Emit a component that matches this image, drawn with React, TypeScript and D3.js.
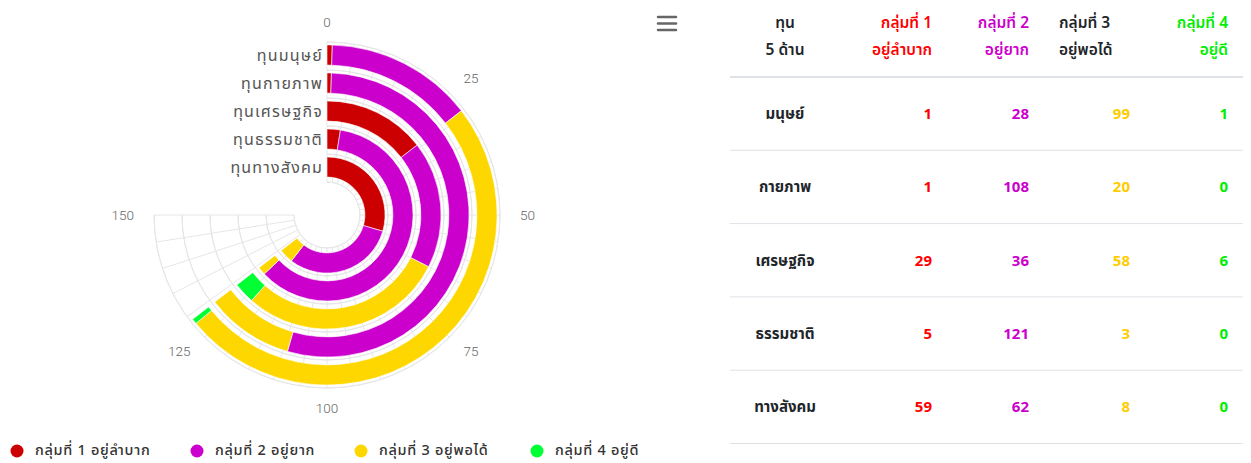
import React from 'react';
import * as d3 from 'd3';

const categories = ['ทุนมนุษย์', 'ทุนกายภาพ', 'ทุนเศรษฐกิจ', 'ทุนธรรมชาติ', 'ทุนทางสังคม'];
const tableLabels = ['มนุษย์', 'กายภาพ', 'เศรษฐกิจ', 'ธรรมชาติ', 'ทางสังคม'];
const group1 = [1, 1, 29, 5, 59];
const group2 = [28, 108, 36, 121, 62];
const group3 = [99, 20, 58, 3, 8];
const group4 = [1, 0, 6, 0, 0];
const seriesNames = ['กลุ่มที่ 1 อยู่ลำบาก', 'กลุ่มที่ 2 อยู่ยาก', 'กลุ่มที่ 3 อยู่พอได้', 'กลุ่มที่ 4 อยู่ดี'];
const seriesColors = ['#cc0000', '#cc00cc', '#ffd700', '#00ff33'];
const tableColors = ['#ff0000', '#cc00cc', '#ffcc00', '#00ee00'];
const headerLine1 = ['ทุน', 'กลุ่มที่ 1', 'กลุ่มที่ 2', 'กลุ่มที่ 3', 'กลุ่มที่ 4'];
const headerLine2 = ['5 ด้าน', 'อยู่ลำบาก', 'อยู่ยาก', 'อยู่พอได้', 'อยู่ดี'];
const headerColors = ['#212529', '#ff0000', '#cc00cc', '#212529', '#00ee00'];
const angleTicks = [0, 25, 50, 75, 100, 125, 150];

const W = 1251;
const H = 463;
const cx = 327;
const cy = 215;
const rInner = 33;
const rOuter = 173;
const FONT = '"Noto Sans Thai", "Noto Sans", "DejaVu Sans", sans-serif';

export default function App() {
  const keys = ['g1', 'g2', 'g3', 'g4'];
  const rows = categories.map((c, i) => ({ cat: c, g1: group1[i], g2: group2[i], g3: group3[i], g4: group4[i] }));
  const stacked = d3.stack<any>().keys(keys)(rows);

  const angle = d3.scaleLinear().domain([0, 150]).range([0, 1.5 * Math.PI]);
  const band = d3.scaleBand<string>().domain(categories).range([rOuter, rInner]);
  const bw = band.bandwidth();
  const barIn = (c: string) => (band(c) as number) + bw * 0.175;
  const barOut = (c: string) => (band(c) as number) + bw * 0.895;

  const arc = d3.arc<any>();
  const gridTicks = d3.range(0, 151, 5);
  const ringEdges = categories.map((c) => band(c) as number).concat([rOuter]);

  const pt = (v: number, r: number) => {
    const a = angle(v);
    return [cx + r * Math.sin(a), cy - r * Math.cos(a)];
  };

  const tLeft = 730;
  const tRight = 1243;
  const headerBottom = 77;
  const rowH = 73.3;
  const colX = [785, 932, 1029, 1130, 1228];

  const legendX = [17, 197, 361, 537];
  const legendY = 450;

  return (
    <svg width={W} height={H} style={{ position: 'absolute', left: 0, top: 0, fontFamily: FONT }}>
      <rect width={W} height={H} fill="#ffffff" />
      <g transform={`translate(${cx},${cy})`}>
        {ringEdges.map((r, i) => (
          <path
            key={'ring' + i}
            d={d3.arc()({ innerRadius: r, outerRadius: r, startAngle: angle(0), endAngle: angle(150) }) as string}
            fill="none"
            stroke="#e6e6e6"
            strokeWidth={1}
          />
        ))}
      </g>
      {gridTicks.map((t) => {
        const [x1, y1] = pt(t, rInner);
        const [x2, y2] = pt(t, rOuter);
        return <line key={'rad' + t} x1={x1} y1={y1} x2={x2} y2={y2} stroke="#e6e6e6" strokeWidth={1} />;
      })}
      <g transform={`translate(${cx},${cy})`}>
        {stacked.map((s, si) =>
          s.map((d: any, i: number) => {
            if (d[1] - d[0] <= 0) return null;
            const c = categories[i];
            return (
              <path
                key={si + '-' + i}
                d={
                  arc({
                    innerRadius: barIn(c),
                    outerRadius: barOut(c),
                    startAngle: angle(d[0]),
                    endAngle: angle(d[1]),
                  }) as string
                }
                fill={seriesColors[si]}
                stroke="#ffffff"
                strokeWidth={0.6}
              />
            );
          })
        )}
      </g>
      {angleTicks.map((t) => {
        const [x, y] = pt(t, 193);
        const deg = (angle(t) * 180) / Math.PI;
        const anchor = deg === 0 || deg === 180 ? 'middle' : deg < 180 ? 'start' : 'end';
        return (
          <text
            key={'tl' + t}
            x={x}
            y={y}
            dy="0.35em"
            textAnchor={anchor}
            fontSize={13.5}
            fill="#666"
            fontFamily='"Roboto", sans-serif'
            fontWeight={300}
          >
            {t}
          </text>
        );
      })}
      {categories.map((c) => (
        <text
          key={'cl' + c}
          x={cx - 4}
          y={cy - (barIn(c) + barOut(c)) / 2}
          dy="0.35em"
          textAnchor="end"
          fontSize={16}
          letterSpacing={1.2}
          fill="#555"
        >
          {c}
        </text>
      ))}
      {seriesNames.map((n, i) => (
        <g key={'lg' + i}>
          <circle cx={legendX[i]} cy={legendY + 1} r={6.5} fill={seriesColors[i]} />
          <text x={legendX[i] + 18} y={legendY} dy="0.35em" fontSize={14.5} letterSpacing={0.7} fill="#333" fontWeight={500}>
            {n}
          </text>
        </g>
      ))}
      {[0, 1, 2].map((k) => (
        <line key={'m' + k} x1={658} x2={676} y1={17 + k * 6.5} y2={17 + k * 6.5} stroke="#666" strokeWidth={2.5} strokeLinecap="round" />
      ))}
      {headerLine1.map((h, i) => {
        const anchor = i === 0 ? 'middle' : i === 3 ? 'start' : 'end';
        const x = i === 3 ? 1059 : colX[i];
        return (
          <g key={'h' + i}>
            <text x={x} y={23} dy="0.35em" textAnchor={anchor} fontSize={15.5} fontWeight={600} fill={headerColors[i]}>
              {h}
            </text>
            <text x={x} y={50} dy="0.35em" textAnchor={anchor} fontSize={15.5} fontWeight={600} fill={headerColors[i]}>
              {headerLine2[i]}
            </text>
          </g>
        );
      })}
      <line x1={tLeft} x2={tRight} y1={headerBottom} y2={headerBottom} stroke="#dee2e6" strokeWidth={2} />
      {tableLabels.map((lab, r) => {
        const yMid = headerBottom + rowH * (r + 0.5);
        const vals = [group1[r], group2[r], group3[r], group4[r]];
        return (
          <g key={'row' + r}>
            <text x={colX[0]} y={yMid} dy="0.35em" textAnchor="middle" fontSize={15} fontWeight={700} fill="#212529">
              {lab}
            </text>
            {vals.map((v, j) => (
              <text key={j} x={colX[j + 1]} y={yMid} dy="0.35em" textAnchor="end" fontSize={15} fontWeight={700} fill={tableColors[j]}>
                {v}
              </text>
            ))}
            <line
              x1={tLeft}
              x2={tRight}
              y1={headerBottom + rowH * (r + 1)}
              y2={headerBottom + rowH * (r + 1)}
              stroke="#dee2e6"
              strokeWidth={1}
            />
          </g>
        );
      })}
    </svg>
  );
}
